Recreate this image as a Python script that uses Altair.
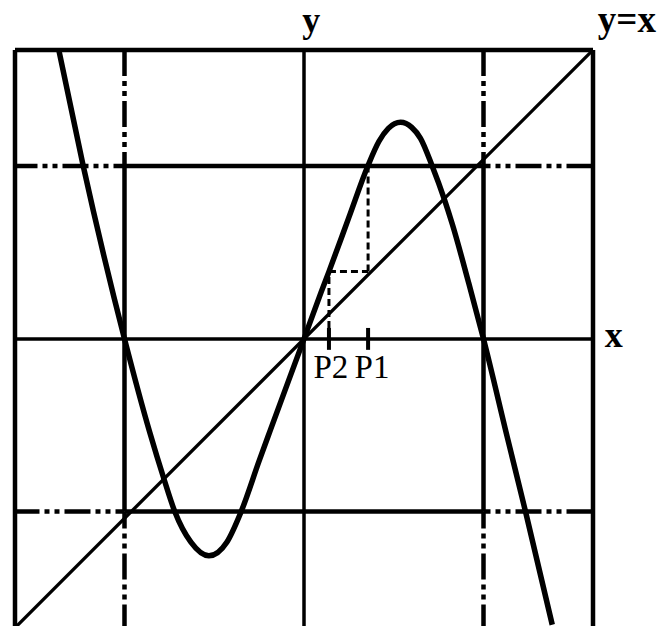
import altair as alt
import pandas as pd

# Points sampled along the map y = f(x)
curve_x = [-1.366, -1.230, -1.000, -0.859, -0.781, -0.720, -0.630, -0.530, -0.430,
           -0.350, -0.250, -0.187, 0.000, 0.096, 0.139, 0.250, 0.355, 0.417, 0.470,
           0.538, 0.600, 0.649, 0.714, 0.783, 0.826, 0.918, 1.000, 1.132, 1.234, 1.383]
curve_y = [1.610, 0.964, 0.000, -0.522, -0.778, -0.962, -1.133, -1.209, -1.133,
           -0.962, -0.680, -0.507, 0.000, 0.262, 0.375, 0.677, 0.962, 1.100, 1.173,
           1.207, 1.179, 1.118, 0.964, 0.775, 0.640, 0.310, 0.000, -0.546, -0.962, -1.593]

# Plot window
x_lim = [-1.61, 1.61]
y_lim = [-1.60, 1.61]

# Roots of f at x = -1, 1 and the levels where y = x meets them
root_x = [-1.0, 1.0]
level_y = [0.964, -0.962]

# Backward iterates of the fixed point 0: f(P2) = P1, f(P1) = top level
p_names = ["P2", "P1"]
p_x = [0.139, 0.357]
p2_image = 0.375

FONT = "Liberation Serif"
xs = alt.Scale(domain=x_lim, nice=False, zero=False)
ys = alt.Scale(domain=y_lim, nice=False, zero=False)

DASH_DOT = [26, 5, 5, 5, 5, 5]


def seg(x, y, x2, y2, width, dash=None, offset=0, clip=False):
    df = pd.DataFrame({"x": [x], "y": [y], "x2": [x2], "y2": [y2]})
    kw = dict(color="black", strokeWidth=width, clip=clip)
    if dash:
        kw["strokeDash"] = dash
        kw["strokeDashOffset"] = offset
    return alt.Chart(df).mark_rule(**kw).encode(
        x=alt.X("x:Q", scale=xs, axis=None),
        y=alt.Y("y:Q", scale=ys, axis=None),
        x2="x2:Q",
        y2="y2:Q",
    )


layers = []

# Frame (left, top, right)
layers.append(seg(x_lim[0], y_lim[0], x_lim[0], y_lim[1], 4.5))
layers.append(seg(x_lim[0], y_lim[1], x_lim[1], y_lim[1], 4.5))
layers.append(seg(x_lim[1], y_lim[0], x_lim[1], y_lim[1], 4.5))

# Coordinate axes
layers.append(seg(x_lim[0], 0, x_lim[1], 0, 3.5))
layers.append(seg(0, y_lim[0], 0, y_lim[1], 3.5))

# Verticals through the roots: solid inside the square, dash-dot outside
top, bot = level_y
for rx in root_x:
    layers.append(seg(rx, bot, rx, top, 4.5))
    layers.append(seg(rx, top, rx, y_lim[1], 4.5, DASH_DOT, 12))
    layers.append(seg(rx, bot, rx, y_lim[0], 4.5, DASH_DOT, 9))

# Horizontals at the two levels
left, right = root_x
for ly, off_l, off_r in [(top, 15, 19), (bot, 17, 19)]:
    layers.append(seg(left, ly, right, ly, 4.5))
    layers.append(seg(left, ly, x_lim[0], ly, 4.5, DASH_DOT, off_l))
    layers.append(seg(right, ly, x_lim[1], ly, 4.5, DASH_DOT, off_r))

# Diagonal y = x
diag = pd.DataFrame({"x": x_lim, "y": x_lim})
layers.append(
    alt.Chart(diag).mark_line(color="black", strokeWidth=3.3, clip=True).encode(
        x=alt.X("x:Q", scale=xs, axis=None), y=alt.Y("y:Q", scale=ys, axis=None)
    )
)

# Cobweb steps back from P1 to P2
tick_h = 0.061
layers.append(seg(p_x[0], tick_h, p_x[0], p2_image, 3, [7, 4]))
layers.append(seg(p_x[0], p2_image, p_x[1], p2_image, 3, [7, 4]))
layers.append(seg(p_x[1], p2_image, p_x[1], top, 3, [7, 4]))
for px in p_x:
    layers.append(seg(px, -tick_h, px, tick_h, 4))

# The map itself
curve = pd.DataFrame({"x": curve_x, "y": curve_y})
layers.append(
    alt.Chart(curve).mark_line(
        color="black", strokeWidth=5.5, interpolate="monotone", clip=True
    ).encode(x=alt.X("x:Q", scale=xs, axis=None), y=alt.Y("y:Q", scale=ys, axis=None))
)


def label(text, x, y, align, size=33, weight="normal"):
    df = pd.DataFrame({"x": [x], "y": [y], "t": [text]})
    return alt.Chart(df).mark_text(
        font=FONT, fontSize=size, fontWeight=weight, color="black",
        align=align, baseline="alphabetic"
    ).encode(
        x=alt.X("x:Q", scale=xs, axis=None),
        y=alt.Y("y:Q", scale=ys, axis=None),
        text="t:N",
    )


layers.append(label("y", 0.04, 1.71, "center", 36, "bold"))
layers.append(label("y=x", 1.637, 1.71, "left", 37, "bold"))
layers.append(label("x", 1.676, -0.045, "left", 36, "bold"))
layers.append(label(p_names[0], 0.150, -0.217, "center"))
layers.append(label(p_names[1], 0.379, -0.217, "center"))

chart = alt.layer(*layers).properties(
    width=578,
    height=576,
    autosize=alt.AutoSizeParams(type="none"),
    padding={"left": 15, "top": 50, "right": 75, "bottom": 0},
    background="white",
).configure_view(strokeWidth=0)

chart.save("out.html", embed_options={"renderer": "svg", "actions": False})
